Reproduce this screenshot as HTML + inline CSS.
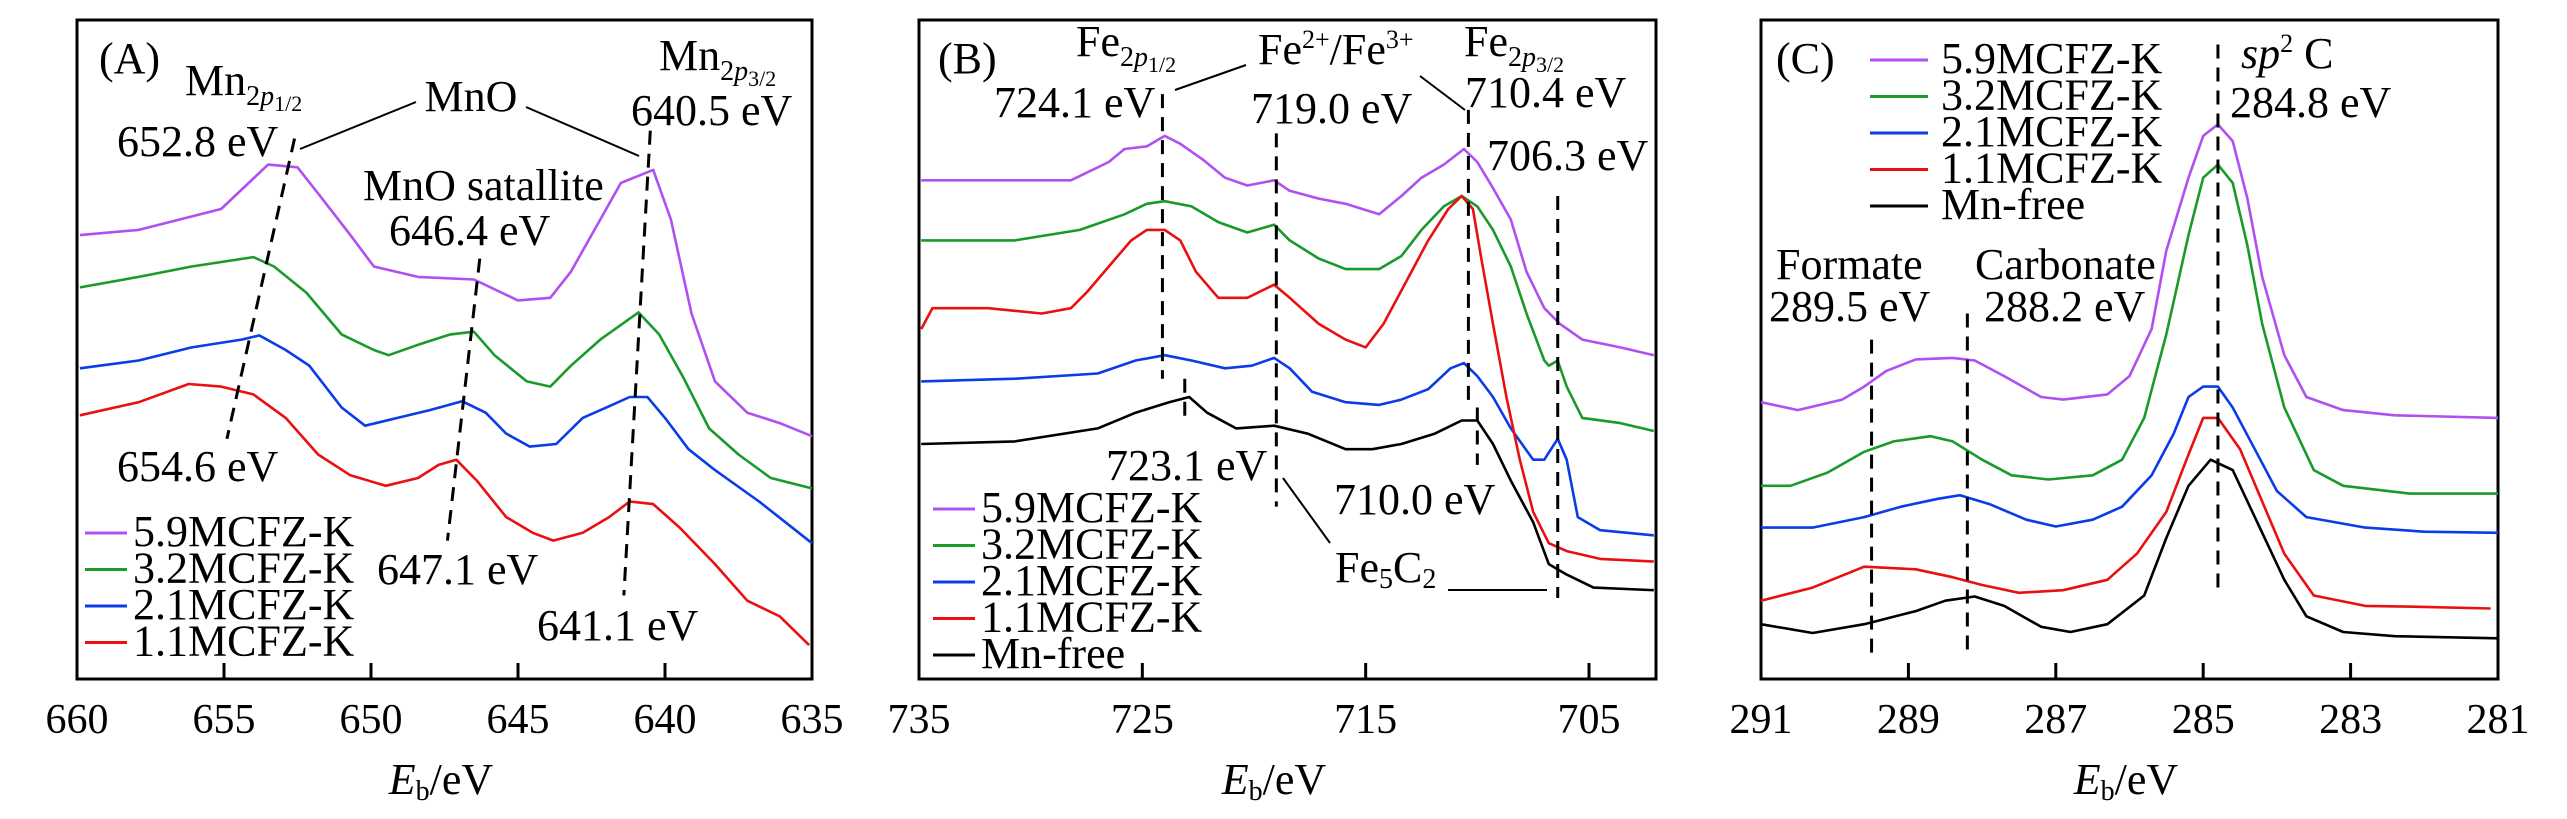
<!DOCTYPE html>
<html><head><meta charset="utf-8"><style>
html,body{margin:0;padding:0;background:#fff}
svg{display:block}
svg, svg text, svg tspan{font-family:"Liberation Serif","Times New Roman",serif !important}
text{fill:#000}
</style></head><body>
<svg id="chart" width="2567" height="819" viewBox="0 0 2567 819" xmlns="http://www.w3.org/2000/svg" font-family="Liberation Serif, serif">
<g id="static" font-size="44" font-family="Liberation Serif, serif">
<rect x="77" y="20" width="735" height="659" fill="none" stroke="#000" stroke-width="3"/>
<rect x="919" y="20" width="737" height="659" fill="none" stroke="#000" stroke-width="3"/>
<rect x="1761" y="20" width="737" height="659" fill="none" stroke="#000" stroke-width="3"/>

<text x="99" y="73">(A)</text>
<text x="185" y="95">Mn<tspan font-size="28" dy="10">2<tspan font-style="italic">p</tspan><tspan font-size="22" dy="6">1/2</tspan></tspan></text>
<text x="117" y="156">652.8 eV</text>
<text x="471" y="111" text-anchor="middle">MnO</text>
<text x="659" y="70">Mn<tspan font-size="28" dy="10">2<tspan font-style="italic">p</tspan><tspan font-size="22" dy="6">3/2</tspan></tspan></text>
<text x="631" y="125">640.5 eV</text>
<text x="363" y="200">MnO satallite</text>
<text x="389" y="245">646.4 eV</text>
<text x="117" y="481">654.6 eV</text>
<text x="377" y="584">647.1 eV</text>
<text x="537" y="640">641.1 eV</text>
<line x1="300" y1="149" x2="416" y2="102" stroke="#000" stroke-width="2"/>
<line x1="526" y1="107" x2="639" y2="156" stroke="#000" stroke-width="2"/>

<text x="938" y="73">(B)</text>
<text x="1076" y="56">Fe<tspan font-size="28" dy="10">2<tspan font-style="italic">p</tspan><tspan font-size="22" dy="6">1/2</tspan></tspan></text>
<text x="994" y="117">724.1 eV</text>
<text x="1258" y="64">Fe<tspan font-size="26" dy="-16">2+</tspan><tspan dy="16">/Fe</tspan><tspan font-size="26" dy="-16">3+</tspan></text>
<text x="1251" y="123">719.0 eV</text>
<text x="1464" y="56">Fe<tspan font-size="28" dy="10">2<tspan font-style="italic">p</tspan><tspan font-size="22" dy="6">3/2</tspan></tspan></text>
<text x="1465" y="107">710.4 eV</text>
<text x="1487" y="170">706.3 eV</text>
<text x="1106" y="480">723.1 eV</text>
<text x="1334" y="514">710.0 eV</text>
<text x="1335" y="582">Fe<tspan font-size="28" dy="6">5</tspan><tspan dy="-6">C</tspan><tspan font-size="28" dy="6">2</tspan></text>
<line x1="1175" y1="90" x2="1246" y2="65" stroke="#000" stroke-width="2"/>
<line x1="1420" y1="76" x2="1465" y2="110" stroke="#000" stroke-width="2"/>
<line x1="1283" y1="478" x2="1330" y2="543" stroke="#000" stroke-width="2"/>
<line x1="1448" y1="590" x2="1547" y2="590" stroke="#000" stroke-width="2"/>

<text x="1776" y="73">(C)</text>
<text x="2241" y="68"><tspan font-style="italic">sp</tspan><tspan font-size="26" dy="-16">2</tspan><tspan dy="16"> C</tspan></text>
<text x="2230" y="117">284.8 eV</text>
<text x="1776" y="279">Formate</text>
<text x="1769" y="321">289.5 eV</text>
<text x="1975" y="279">Carbonate</text>
<text x="1984" y="321">288.2 eV</text>

<text x="441" y="794" text-anchor="middle"><tspan font-style="italic">E</tspan><tspan font-size="28" dy="6">b</tspan><tspan dy="-6">/eV</tspan></text>
<text x="1274" y="794" text-anchor="middle"><tspan font-style="italic">E</tspan><tspan font-size="28" dy="6">b</tspan><tspan dy="-6">/eV</tspan></text>
<text x="2126" y="794" text-anchor="middle"><tspan font-style="italic">E</tspan><tspan font-size="28" dy="6">b</tspan><tspan dy="-6">/eV</tspan></text>
</g>
<g id="dyn" font-family="Liberation Serif, serif"></g>
</svg>
<script>
// ---- Panel A (Mn 2p) ----
const aX5 = [659.9,657.9,655.1,653.5,652.5,651.8,650.7,649.9,648.4,646.5,645.0,643.9,643.2,642.2,641.5,640.4,639.8,639.1,638.3,637.2,636.1,635.0];
const aY5 = [850,860,900,985,980,930,850,790,770,765,725,730,780,880,950,975,880,700,570,510,490,465];
const aX3 = [659.9,657.9,656.1,654.0,653.3,652.2,651.0,649.9,649.4,648.4,647.3,646.5,645.8,644.7,643.9,643.2,642.2,640.9,640.2,639.4,638.5,637.5,636.4,635.0];
const aY3 = [750,770,790,808,790,740,660,630,620,640,660,665,620,570,560,600,650,702,660,580,480,430,385,365];
const aX2 = [659.9,657.9,656.1,654.4,653.8,652.9,652.1,651.0,650.2,649.1,648.0,646.9,646.1,645.4,644.6,643.7,642.8,641.8,641.2,640.6,640.0,639.2,638.3,636.8,635.0];
const aY2 = [595,610,635,650,658,630,600,520,485,500,515,532,510,470,445,450,500,525,540,540,500,440,400,340,260];
const aX1 = [659.9,657.9,656.2,655.1,654.0,652.9,651.8,650.7,649.5,648.4,647.7,647.1,646.4,645.4,644.5,643.8,642.8,641.9,641.2,640.4,639.5,638.3,637.2,636.1,635.1];
const aY1 = [505,530,565,560,545,500,430,390,370,385,410,420,380,310,280,265,280,310,340,335,290,220,150,120,65];
const aTicks = [660,655,650,645,640,635];
// ---- Panel B (Fe 2p) ----
const bX5 = [734.9,731.9,728.2,726.5,725.8,724.8,724.0,723.3,722.3,721.3,720.3,719.1,718.4,717.1,715.9,714.4,713.4,712.5,711.5,710.6,710.0,709.3,708.5,707.8,707.0,706.3,705.3,703.6,702.1];
const bY5 = [955,955,955,990,1015,1020,1040,1025,995,960,945,955,935,920,910,890,925,960,985,1015,990,940,880,780,710,680,650,635,620];
const bX3 = [734.9,730.7,727.8,725.8,724.8,724.0,722.8,721.6,720.3,719.1,718.4,717.1,715.9,714.4,713.4,712.5,711.5,710.7,710.0,709.3,708.5,707.8,707.0,706.8,706.4,706.0,705.3,703.6,702.1];
const bY3 = [840,840,860,890,910,915,905,875,855,870,840,805,785,785,810,860,905,925,905,860,790,700,610,600,610,560,500,490,475];
const bX1 = [734.9,734.4,731.9,729.5,728.2,727.5,726.5,725.5,724.8,724.0,723.3,722.6,721.6,720.3,719.1,718.4,717.1,715.9,715.0,714.2,713.2,712.2,711.3,710.7,710.2,709.8,709.3,708.7,708.1,707.5,706.8,706.0,704.5,702.1];
const bY1 = [670,710,710,700,710,740,790,840,860,860,840,780,730,730,755,730,680,650,635,680,760,840,900,925,900,800,680,540,420,320,260,245,230,225];
const bX2 = [734.9,730.7,727.0,725.3,724.0,722.8,721.3,720.1,719.1,718.4,717.4,715.9,714.4,713.4,712.2,711.2,710.6,710.0,709.3,708.5,707.5,707.0,706.4,706.0,705.5,704.5,702.1];
const bY2 = [570,575,585,610,620,610,595,600,615,595,550,530,525,535,555,595,605,580,540,480,420,420,460,420,310,285,275];
const bX0 = [734.9,730.7,727.0,725.3,723.8,722.9,722.1,720.8,719.1,717.6,715.9,714.7,713.4,711.9,710.7,710.0,709.3,708.5,707.5,706.8,706.0,704.8,702.1];
const bY0 = [450,455,480,510,530,540,510,480,485,470,440,440,450,470,495,495,450,380,300,220,200,175,170];
const bTicks = [735,725,715,705];
// ---- Panel C (C 1s) ----
const cX5 = [291.0,290.5,289.9,289.6,289.3,288.9,288.4,288.1,287.7,287.2,286.9,286.3,286.0,285.7,285.5,285.2,285.0,284.8,284.6,284.4,284.2,283.9,283.6,283.1,282.4,281.0];
const cY5 = [530,515,535,560,590,612,615,610,580,540,535,545,580,670,820,960,1040,1062,1030,920,770,620,540,515,505,500];
const cX3 = [291.0,290.6,290.1,289.6,289.2,288.7,288.4,288.0,287.6,287.1,286.5,286.1,285.8,285.5,285.2,285.0,284.8,284.6,284.4,284.2,283.9,283.5,283.1,282.2,281.0];
const cY3 = [370,370,395,435,455,465,455,420,390,382,390,420,500,660,850,960,985,950,830,680,520,400,370,355,355];
const cX2 = [291.0,290.3,289.6,289.1,288.6,288.3,287.9,287.4,287.0,286.5,286.1,285.7,285.4,285.2,285.0,284.8,284.6,284.3,284.0,283.6,282.8,282.0,281.0];
const cY2 = [290,290,310,330,345,352,335,305,292,305,330,390,470,540,560,560,520,440,360,310,290,282,280];
const cX1 = [291.0,290.3,289.6,288.9,288.4,288.0,287.5,286.9,286.3,285.9,285.5,285.2,285.0,284.8,284.5,284.2,283.9,283.5,282.8,282.0,281.1];
const cY1 = [150,175,215,210,195,180,165,170,190,240,320,430,500,500,440,340,240,160,140,138,135];
const cX0 = [291.0,290.3,289.6,288.9,288.5,288.1,287.7,287.2,286.8,286.3,285.8,285.5,285.2,284.9,284.6,284.3,283.9,283.6,283.1,282.4,281.0];
const cY0 = [105,88,105,130,150,158,140,100,90,105,160,270,370,420,400,310,190,120,90,82,78];
const cTicks = [291,289,287,285,283,281];
const seriesNames = ["5.9MCFZ-K","3.2MCFZ-K","2.1MCFZ-K","1.1MCFZ-K","Mn-free"];

const COL = ["#b050f0","#1a9a2a","#0a3ce8","#e81010","#000"];
const NS = "http://www.w3.org/2000/svg";
const dyn = document.getElementById('dyn');
const Y0 = 679, Y1 = 20, IMAX = 1262;
function yS(v){ return Y0 - v*(Y0-Y1)/IMAX; }
function mk(tag, attrs){ const e=document.createElementNS(NS,tag); for(const k in attrs) e.setAttribute(k,attrs[k]); dyn.appendChild(e); return e; }
function makeX(left,right,e0,e1){ return v => left + (v-e0)*(right-left)/(e1-e0); }
const xA = makeX(77,812,660,635), xB = makeX(919,1656,735,702), xC = makeX(1761,2498,291,281);

function drawSeries(xs, ys, xf, color, name){
  const pts = xs.map((x,i)=>xf(x).toFixed(1)+","+yS(ys[i]).toFixed(1)).join(" ");
  const p = mk('polyline',{points:pts,fill:'none',stroke:color,'stroke-width':2.6,'stroke-linejoin':'round'});
  
  
}
function drawTicks(ticks, xf, left, right, panel){
  ticks.forEach(t=>{
    const x = xf(t);
    if (x > left+2 && x < right-2){
      const l = mk('line',{x1:x,y1:Y0,x2:x,y2:Y0-16,stroke:'#000','stroke-width':3});
      
      
    }
    const tx = mk('text',{x:x,y:733,'text-anchor':'middle','font-size':42,'font-family':'Liberation Serif, serif'});
    tx.textContent = t;
    
    
  });
}
function dash(xf, e1, i1, e2, i2, name){
  const l = mk('line',{x1:xf(e1),y1:yS(i1),x2:xf(e2),y2:yS(i2),stroke:'#000','stroke-width':3,'stroke-dasharray':'14,9'});
  
  
}
function legend(x0, yb, n, name){
  for(let i=0;i<n;i++){
    const y = yb + i*36.5;
    const l = mk('line',{x1:x0,y1:y-13,x2:x0+(name==='c'?58:42),y2:y-13,stroke:COL[i],'stroke-width':3});
    
    
    const t = mk('text',{x:x0+(name==='c'?71:48),y:y,'font-size':44,'font-family':'Liberation Serif, serif'});
    t.textContent = seriesNames[i];
    
    
  }
}

drawSeries(aX5,aY5,xA,COL[0],'a-series-5-9');
drawSeries(aX3,aY3,xA,COL[1],'a-series-3-2');
drawSeries(aX2,aY2,xA,COL[2],'a-series-2-1');
drawSeries(aX1,aY1,xA,COL[3],'a-series-1-1');
dash(xA,652.6,1035,654.9,460,'a-dash-2p12');
dash(xA,646.3,805,647.4,265,'a-dash-satellite');
dash(xA,640.5,1050,641.4,160,'a-dash-2p32');
drawTicks(aTicks,xA,77,812,'a');
legend(85,546,4,'a');

drawSeries(bX5,bY5,xB,COL[0],'b-series-5-9');
drawSeries(bX3,bY3,xB,COL[1],'b-series-3-2');
drawSeries(bX2,bY2,xB,COL[2],'b-series-2-1');
drawSeries(bX1,bY1,xB,COL[3],'b-series-1-1');
drawSeries(bX0,bY0,xB,COL[4],'b-series-mn-free');
dash(xB,724.1,1120,724.1,575,'b-dash-724-1');
dash(xB,723.1,575,723.1,490,'b-dash-723-1');
dash(xB,719.0,1045,719.0,330,'b-dash-719-0');
dash(xB,710.4,1090,710.4,520,'b-dash-710-4');
dash(xB,710.0,520,710.0,410,'b-dash-710-0');
dash(xB,706.4,925,706.4,155,'b-dash-706-3');
drawTicks(bTicks,xB,919,1656,'b');
legend(933,522,5,'b');

drawSeries(cX5,cY5,xC,COL[0],'c-series-5-9');
drawSeries(cX3,cY3,xC,COL[1],'c-series-3-2');
drawSeries(cX2,cY2,xC,COL[2],'c-series-2-1');
drawSeries(cX1,cY1,xC,COL[3],'c-series-1-1');
drawSeries(cX0,cY0,xC,COL[4],'c-series-mn-free');
dash(xC,289.5,650,289.5,45,'c-dash-formate');
dash(xC,288.2,700,288.2,50,'c-dash-carbonate');
dash(xC,284.8,1215,284.8,160,'c-dash-sp2');
drawTicks(cTicks,xC,1761,2498,'c');
legend(1870,73,5,'c');
</script>
</body></html>
